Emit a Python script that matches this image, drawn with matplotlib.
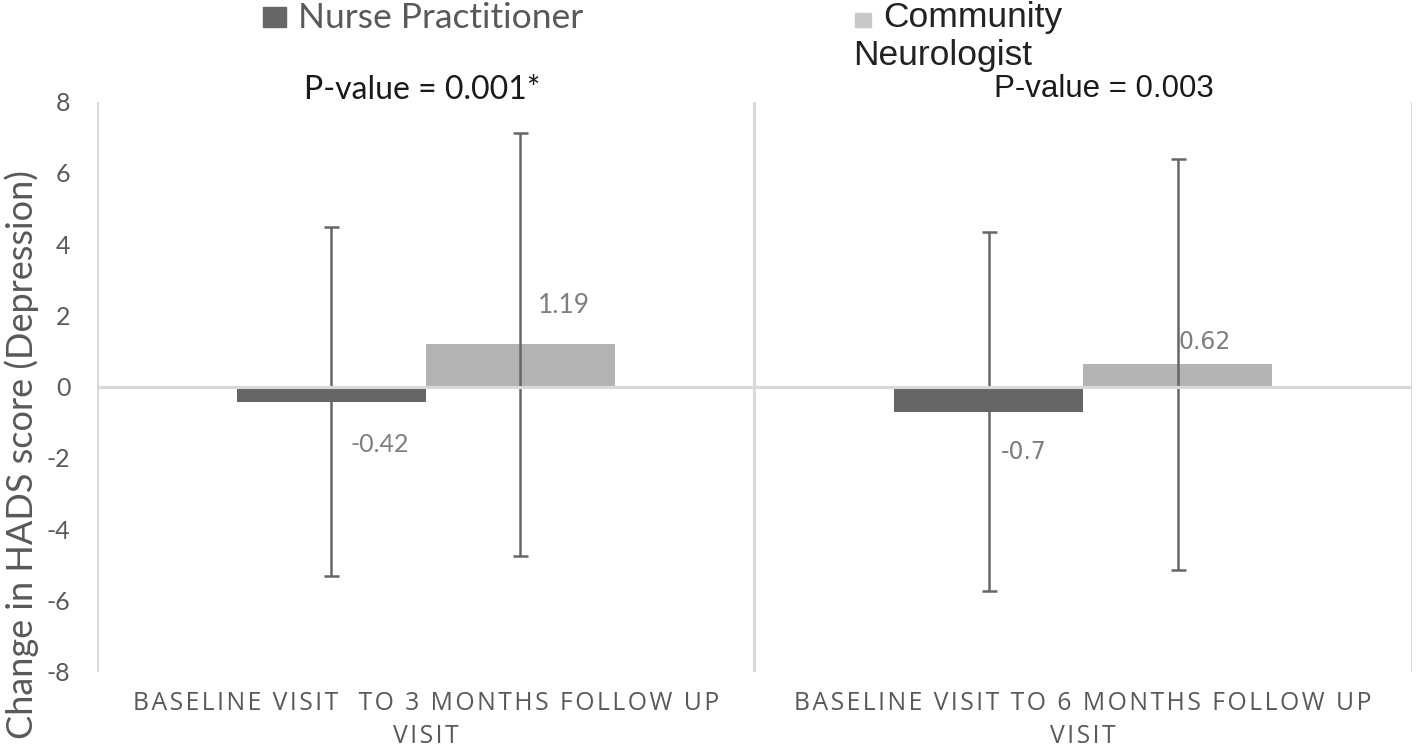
import numpy as np
import matplotlib
matplotlib.use("Agg")
import matplotlib.pyplot as plt
from matplotlib.patches import Rectangle

# ── Data ──────────────────────────────────
categories = ["BASELINE VISIT  TO 3 MONTHS FOLLOW UP\nVISIT",
              "BASELINE VISIT TO 6 MONTHS FOLLOW UP\nVISIT"]
series_names = ["Nurse Practitioner", "Community\nNeurologist"]
nurse_vals = [-0.42, -0.70]
neuro_vals = [1.19, 0.62]
nurse_err = [4.90, 5.05]
neuro_err = [5.94, 5.76]
p_values = ["P-value = 0.001*", "P-value = 0.003"]
yticks = [-8, -6, -4, -2, 0, 2, 4, 6, 8]

# ── Colors ────────────────────────────────
DARK = "#666666"
LIGHT = "#b3b3b3"
GRID = "#d9d9d9"
TXT = "#595959"
LBL = "#7f7f7f"


def spaced(s):
    # Excel-style letter spacing on the category labels
    return "\n".join("\u200a".join(line) for line in s.split("\n"))


fig = plt.figure(figsize=(14.16, 7.47), dpi=100, facecolor="white")
ax = fig.add_axes([0.0685, 0.101, 0.9285, 0.763])

x = np.arange(len(categories))
w = 0.2875
b1 = ax.bar(x - w / 2, nurse_vals, w, color=DARK, zorder=2)
b2 = ax.bar(x + w / 2, neuro_vals, w, color=LIGHT, zorder=2)
ax.errorbar(x - w / 2, nurse_vals, yerr=nurse_err, fmt="none", ecolor=DARK,
            elinewidth=1.8, capsize=5.4, capthick=1.8, zorder=3)
ax.errorbar(x + w / 2, neuro_vals, yerr=neuro_err, fmt="none", ecolor=DARK,
            elinewidth=1.8, capsize=5.4, capthick=1.8, zorder=3)

# zero line drawn over the error bars, like the original
ax.axhline(0, color=GRID, lw=2.2, zorder=4)
for xv in [-0.5, 0.5, 1.5]:
    ax.axvline(xv, color=GRID, lw=2.2, zorder=1)

ax.set_xlim(-0.5, 1.5)
ax.set_ylim(-8, 8)
ax.set_yticks(yticks)
ax.set_yticklabels([str(t) for t in yticks], fontsize=18, color=TXT, family="Lato")
ax.tick_params(axis="y", length=0, pad=19)
ax.set_xticks(x)
ax.set_xticklabels([spaced(c) for c in categories], fontsize=17.8, color=TXT,
                   family="Open Sans", linespacing=1.4)
ax.tick_params(axis="x", length=0, pad=14)
for s in ax.spines.values():
    s.set_visible(False)

ax.set_ylabel("Change in HADS score (Depression)", fontsize=26, color=TXT,
              family="Lato")
ax.yaxis.set_label_coords(-0.044, 0.38)

# data labels
lbl_specs = [
    (b1[0], "-0.42", (14, -31), "Lato", 18),
    (b2[0], "1.19", (13, 28), "Lato", 19),
    (b1[1], "-0.7", (9, -29), "DejaVu Sans", 17),
    (b2[1], "0.62", (1, 16), "DejaVu Sans", 17),
]
for bar, txt, off, fam, fs in lbl_specs:
    xc = bar.get_x() + bar.get_width() / 2
    ax.annotate(txt, (xc, bar.get_height()), xytext=off, textcoords="offset points",
                ha="left", va="center", fontsize=fs, color=LBL, family=fam)

# p-values
fig.text(422 / 1416, 1 - 90 / 747, p_values[0], ha="center", va="center",
         fontsize=23, color="#1a1a1a", family="Lato")
fig.text(1104 / 1416, 1 - 89 / 747, p_values[1], ha="center", va="center",
         fontsize=22.5, color="#1a1a1a", family="Liberation Sans")

# legend (manual, to keep the wrapped layout of the original)
fig.patches.append(Rectangle((263 / 1416, 1 - 27 / 747), 23 / 1416, 20 / 747,
                             transform=fig.transFigure, color=DARK))
fig.text(298 / 1416, 1 - 18 / 747, series_names[0], ha="left", va="center",
         fontsize=25.5, color=TXT, family="Lato")
fig.patches.append(Rectangle((855 / 1416, 1 - 27 / 747), 16 / 1416, 14 / 747,
                             transform=fig.transFigure, color="#c8c8c8"))
top, bottom = series_names[1].split("\n")
fig.text(883 / 1416, 1 - 18 / 747, top, ha="left", va="center",
         fontsize=25.5, color="#222222", family="Liberation Sans")
fig.text(853 / 1416, 1 - 56 / 747, bottom, ha="left", va="center",
         fontsize=25.5, color="#222222", family="Liberation Sans")

fig.savefig("out.png", dpi=100, facecolor="white")
